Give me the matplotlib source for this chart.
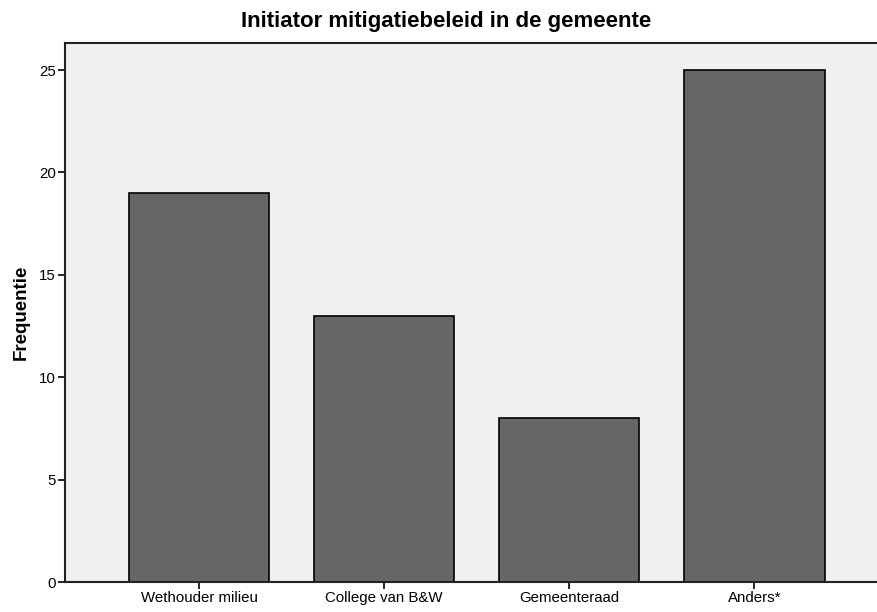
import matplotlib
matplotlib.use('Agg')
import matplotlib.pyplot as plt
import numpy as np

plt.rcParams['font.family'] = ['Liberation Sans', 'DejaVu Sans']

categories = ['Wethouder milieu', 'College van B&W', 'Gemeenteraad', 'Anders*']
frequencies = [19, 13, 8, 25]
yticks = [0, 5, 10, 15, 20, 25]

fig = plt.figure(figsize=(8.77, 6.12), dpi=100)
ax = fig.add_axes([65 / 877, 30 / 612, 812 / 877, 539 / 612])
ax.set_facecolor('#f0f0f0')

x = np.arange(len(categories))
ax.bar(x, frequencies, width=0.757, color='#666666', edgecolor='black', linewidth=1.2)

ax.set_xlim(-0.724, 3.662)
ax.set_ylim(0, 26.32)
ax.set_xticks(x)
ax.set_xticklabels(categories, fontsize=10.8)
ax.set_yticks(yticks)
ax.set_yticklabels([str(v) for v in yticks], fontsize=10.8)
ax.tick_params(direction='out', length=5, width=1.2, color='black', pad=1.5)

for side in ['top', 'bottom', 'left']:
    ax.spines[side].set_color('#222222')
    ax.spines[side].set_linewidth(1.5)
ax.spines['right'].set_visible(False)

ax.set_ylabel('Frequentie', fontsize=13.5, fontweight='bold', labelpad=7)
fig.text(446 / 877, 1 - 22 / 612, 'Initiator mitigatiebeleid in de gemeente',
         ha='center', va='center', fontsize=16, fontweight='bold')

plt.savefig('out.png', dpi=100)
